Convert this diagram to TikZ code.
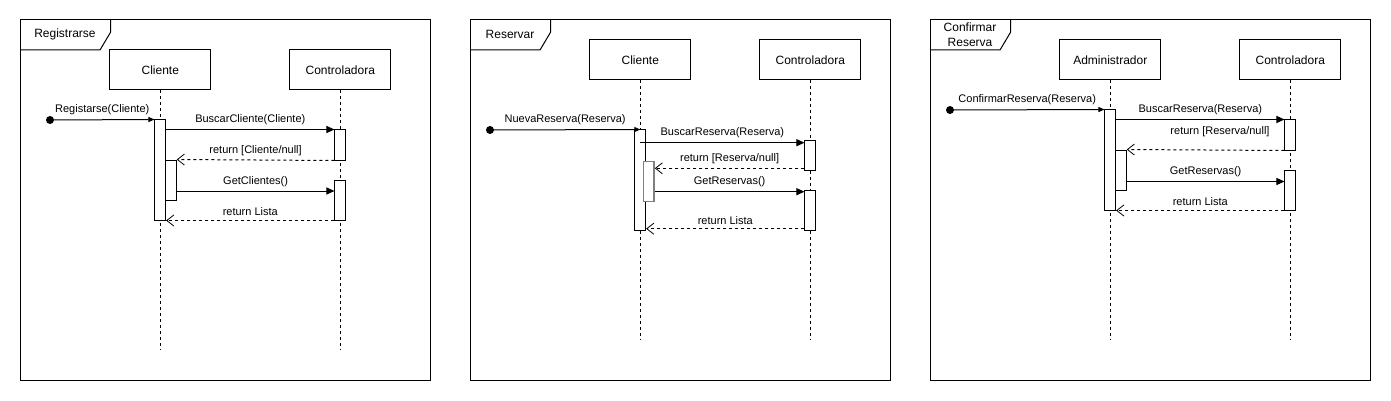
\documentclass[tikz,border=0pt]{standalone}
\usepackage{fontspec}
\setmainfont{Liberation Sans}
\usetikzlibrary{arrows.meta}
\begin{document}
\begin{tikzpicture}[x=1pt,y=-1pt,line width=1pt,
  frame/.style={draw,line width=1pt},
  head/.style={draw,minimum width=100.7pt,minimum height=40pt,inner sep=0pt,font=\fontsize{12}{14}\selectfont},
  act/.style={draw,fill=white,minimum width=10.7pt,inner sep=0pt},
  grayact/.style={draw=black!50,line width=1.5pt,fill=white,minimum width=10.7pt,inner sep=0pt},
  life/.style={dash pattern=on 3pt off 3pt,line width=0.8pt},
  msg/.style={-{Triangle[length=8pt,width=7pt]}},
  startmsg/.style={-{Triangle[length=6pt,width=5pt]}},
  ret/.style={dash pattern=on 3pt off 3pt,-{Straight Barb[length=7pt,width=11pt,line width=0.8pt]}},
  lbl/.style={font=\fontsize{11}{13}\selectfont,inner sep=0pt},
  tabtxt/.style={font=\fontsize{12}{14.6}\selectfont,align=center,inner sep=0pt},
  dot/.style={circle,fill=black,minimum size=8pt,inner sep=0pt}]
\useasboundingbox[fill=white] (0,0) rectangle (1391,401);

% ================= Frame 1 =================
\draw[frame] (20,20) rectangle (430.7,380);
\draw[frame] (20,50) -- (100,50) -- (110.7,32) -- (110.7,20);
\node[tabtxt] (t1) at (65,34) {Registrarse};
\node[head] (c1) at (160.3,70) {Cliente};
\node[head] (k1) at (340.3,70) {Controladora};
\coordinate (c1e) at (160.3,350);
\coordinate (k1e) at (340.3,350);
\draw[life] (c1.south) -- (c1e);
\draw[life] (k1.south) -- (k1e);
\node[act,minimum height=100pt] (a11) at (160.3,170) {};
\node[act,minimum height=40pt] (a12) at (170.9,180) {};
\node[act,minimum height=30pt] (b11) at (340.3,145) {};
\node[act,minimum height=40pt] (b12) at (340.3,200) {};
\node[dot] (s1) at (50,120) {};
\draw[startmsg] (s1.center) -- node[lbl,above=4pt] {Registarse(Cliente)} (a11.north west);
\draw[msg] (b11.north west -| a11.east) -- node[lbl,above=4pt] {BuscarCliente(Cliente)} (b11.north west);
\draw[ret] (b11.south west) -- node[lbl,above=4pt] {return [Cliente/null]} (a12.north east);
\coordinate (m14) at (335,191);
\draw[msg] (m14 -| a12.east) -- node[lbl,above=4pt] {GetClientes()} (m14 -| b12.west);
\draw[ret] (b12.south west) -- node[lbl,above=4pt] {return Lista} (a11.south east);

% ================= Frame 2 =================
\draw[frame] (470,20) rectangle (890.7,380);
\draw[frame] (470,50) -- (540,50) -- (550.7,32) -- (550.7,20);
\node[tabtxt] (t2) at (510,34) {Reservar};
\node[head] (c2) at (640.3,60) {Cliente};
\node[head] (k2) at (810.3,60) {Controladora};
\coordinate (c2e) at (640.3,340);
\coordinate (k2e) at (810.3,340);
\draw[life] (c2.south) -- (c2e);
\draw[life] (k2.south) -- (k2e);
\node[act,minimum height=100pt] (a21) at (640.3,180) {};
\node[grayact,minimum height=40pt] (a22) at (648.7,181.7) {};
\node[act,minimum height=30pt] (b21) at (810.3,155) {};
\node[act,minimum height=40pt] (b22) at (810.3,210) {};
\node[dot] (s2) at (490,130) {};
\draw[startmsg] (s2.center) -- node[lbl,above=4pt] {NuevaReserva(Reserva)} (a21.north);
\coordinate (m22) at (700,142.7);
\draw[msg] (m22 -| a21.north) -- node[lbl,above=4pt] {BuscarReserva(Reserva)} (m22 -| b21.west);
\coordinate (m23) at (700,168.3);
\draw[ret] (m23 -| b21.west) -- node[lbl,above=4pt] {return [Reserva/null]} (m23 -| a22.east);
\coordinate (m24) at (700,191.7);
\draw[msg] (m24 -| a22.east) -- node[lbl,above=4pt] {GetReservas()} (m24 -| b22.west);
\coordinate (m25) at (700,228.7);
\draw[ret] (m25 -| b22.west) -- node[lbl,above=4pt] {return Lista} (m25 -| a21.east);

% ================= Frame 3 =================
\draw[frame] (930,20) rectangle (1370.7,380);
\draw[frame] (930,50) -- (1000,50) -- (1010.7,32) -- (1010.7,20);
\node[tabtxt] (t3) at (970,35) {Confirmar\\Reserva};
\node[head] (c3) at (1110.3,60) {Administrador};
\node[head] (k3) at (1290.3,60) {Controladora};
\coordinate (c3e) at (1110.3,340);
\coordinate (k3e) at (1290.3,340);
\draw[life] (c3.south) -- (c3e);
\draw[life] (k3.south) -- (k3e);
\node[act,minimum height=100pt] (a31) at (1110.3,160) {};
\node[act,minimum height=40pt] (a32) at (1120.9,170) {};
\node[act,minimum height=30pt] (b31) at (1290.3,135) {};
\node[act,minimum height=40pt] (b32) at (1290.3,190) {};
\node[dot] (s3) at (950,110) {};
\draw[startmsg] (s3.center) -- node[lbl,above=4pt] {ConfirmarReserva(Reserva)} (a31.north west);
\draw[msg] (b31.north west -| a31.east) -- node[lbl,above=4pt] {BuscarReserva(Reserva)} (b31.north west);
\draw[ret] (b31.south west) -- (a32.north east);
\node[lbl] (r33) at (1220,131.7) {return [Reserva/null]};
\coordinate (m34) at (1200,181.5);
\draw[msg] (m34 -| a32.east) -- node[lbl,above=4pt] {GetReservas()} (m34 -| b32.west);
\draw[ret] (b32.south west) -- node[lbl,above=4pt] {return Lista} (a31.south east);
\end{tikzpicture}
\end{document}
